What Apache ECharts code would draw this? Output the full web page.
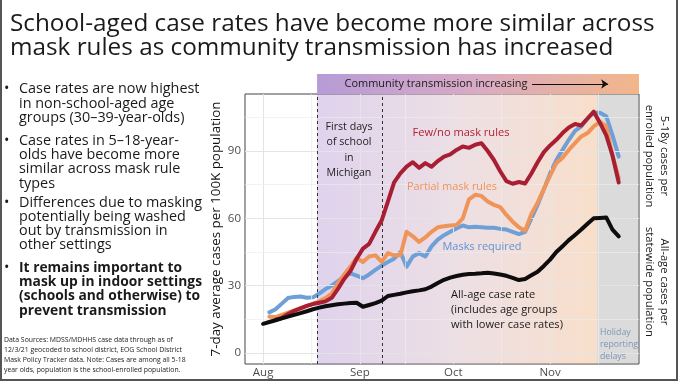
<!DOCTYPE html>
<html><head><meta charset="utf-8">
<script src="https://cdn.jsdelivr.net/npm/echarts@6/dist/echarts.min.js"></script>
<style>
html,body{margin:0;padding:0;width:678px;height:381px;overflow:hidden;background:#fff;font-family:'Open Sans',sans-serif;}
#chart{position:absolute;left:0;top:0;width:678px;height:381px;}
.t{position:absolute;white-space:pre;color:#1a1a1a;}
#frame{position:absolute;left:0;top:0;width:674px;height:379px;border-left:2px solid #555;border-right:2px solid #555;border-bottom:2px solid #555;pointer-events:none;}
</style></head><body>
<div id="chart"></div>
<div id="title" class="t"></div>
<div id="bullets"></div>
<div id="sources" class="t"></div>
<div id="frame"></div>
<script>
// ---------- data (day offsets: 0 = Aug 1, 2021) ----------
const days = [0,2,4,6,8,10,12,14,16,18,20,22,24,26,28,30,32,34,36,38,40,42,44,46,48,50,52,54,56,58,60,62,64,66,68,70,72,74,76,78,80,82,84,86,88,90,92,94,96,98,100,102,104,106,108,110,112,114];
const fewNoMask = [null,null,14.8,15.6,17.4,18.8,19.9,21.0,21.8,22.4,23.0,24.6,28.6,33.0,36.5,42.0,46.5,48.6,54.0,59.0,67.5,76.0,80.0,83.0,85.0,82.5,84.6,83.0,85.5,87.5,88.5,90.5,92.0,91.4,92.8,93.5,90.0,86.0,81.0,76.6,75.4,76.2,75.5,80.0,85.0,89.5,92.5,95.0,98.0,100.5,102.0,101.4,104.5,107.5,102.5,97.0,88.0,76.0];
const partialMask = [null,16.2,16.0,17.0,18.0,19.0,20.0,21.0,22.0,23.0,24.5,26.5,31.0,35.0,38.5,42.5,40.5,43.0,43.5,40.6,44.5,43.5,43.5,54.0,52.0,49.5,51.5,54.0,56.0,56.5,56.8,57.0,60.0,68.5,70.5,70.0,67.5,66.0,65.0,61.5,58.5,56.0,54.5,62.0,67.0,73.0,79.0,84.6,87.0,90.5,93.5,96.5,98.0,101.0,103.0,101.0,88.0,77.9];
const masksRequired = [null,18.1,19.5,22.0,24.5,25.0,25.2,24.6,24.8,26.5,28.5,30.0,32.0,34.3,35.5,34.5,33.3,35.0,37.0,38.9,40.5,42.0,45.0,38.5,43.0,44.5,43.0,47.5,50.5,52.5,54.0,55.5,56.8,56.0,56.2,56.0,55.8,55.8,55.3,55.0,54.0,53.0,54.0,60.0,66.0,73.0,80.0,86.0,90.5,95.0,99.0,101.0,104.5,107.0,107.0,105.5,97.0,87.5];
const allAge = [13.0,13.8,14.6,15.4,16.2,17.0,17.8,18.6,19.5,20.2,20.8,21.3,21.7,22.0,22.3,22.4,20.6,21.4,22.2,23.3,25.4,25.9,26.4,27.0,27.5,27.9,28.4,29.6,31.2,32.6,33.6,34.3,34.9,35.2,35.3,35.5,35.8,35.4,35.0,34.4,33.5,32.5,33.0,34.6,36.2,38.8,41.6,45.0,47.6,50.3,52.6,55.0,57.6,60.0,60.2,60.4,55.0,52.0];

const monthTicks = [0,31,61,92];
const monthLabels = ['Aug','Sep','Oct','Nov'];
const xMinorGrid = [15.5,45.5,76.5,107.5];
const yTickValues = [0,30,60,90];
const yMinorGrid = [15,45,75,105];
const schoolDays = [17.3,38.2];
const transmissionStart = 17.3;
const holidayStart = 107;

const titleLines = ['School-aged case rates have become more similar across','mask rules as community transmission has increased'];
const bullets = [
  {bold:false, lines:['Case rates are now highest','in non-school-aged age','groups (30\u201339-year-olds)']},
  {bold:false, lines:['Case rates in 5\u201318-year-','olds have become more','similar across mask rule','types']},
  {bold:false, lines:['Differences due to masking','potentially being washed','out by transmission in','other settings']},
  {bold:true, lines:['It remains important to','mask up in indoor settings','(schools and otherwise) to','prevent transmission']}
];
const sourceLines = ['Data Sources: MDSS/MDHHS case data through as of','12/3/21 geocoded to school district, EOG School District','Mask Policy Tracker data. Note: Cases are among all 5-18','year olds, population is the school-enrolled population.'];

// ---------- layout helpers ----------
const FONT = "'Open Sans', sans-serif";
const mctx = document.createElement('canvas').getContext('2d');
function fitSize(text, width, weight) {
  mctx.font = (weight || 400) + ' 100px ' + FONT;
  return +(100 * width / mctx.measureText(text).width).toFixed(2);
}
function block(el, lines, left, baseline, lh, size, weight) {
  el.style.left = left + 'px';
  el.style.top = (baseline - lh / 2 - 0.388 * size) + 'px';
  el.style.fontSize = size + 'px';
  el.style.lineHeight = lh + 'px';
  el.style.fontWeight = weight || 400;
  el.textContent = lines.join('\n');
}
// title
const titleSize = fitSize(titleLines[0], 645);
block(document.getElementById('title'), titleLines, 10, 31.5, 24.5, titleSize);
// bullets
const bSize = fitSize('Differences due to masking', 183);
const bBoldSize = fitSize('mask up in indoor settings', 183, 700);
const bBase = [94, 145.7, 207.4, 272.4];
const bWrap = document.getElementById('bullets');
bullets.forEach((b, i) => {
  const d = document.createElement('div'); d.className = 't';
  const sz = b.bold ? bBoldSize : bSize;
  block(d, b.lines, 19, bBase[i], 14.2, sz, b.bold ? 700 : 400);
  bWrap.appendChild(d);
  const dot = document.createElement('div'); dot.className = 't';
  block(dot, ['\u2022'], 4, bBase[i], 14.2, bSize, 400);
  bWrap.appendChild(dot);
});
// sources
const sSize = fitSize(sourceLines[1], 178);
block(document.getElementById('sources'), sourceLines, 4, 343, 9.7, sSize);

// ---------- chart ----------
const xMin = -5.8, xMax = 120.5, yMin = -4.9, yMax = 115.4;
const pair = arr => days.map((d, i) => [d, arr[i]]).filter(p => p[1] !== null);
const chart = echarts.init(document.getElementById('chart'), null, {renderer: 'canvas'});
const G = echarts.graphic.LinearGradient;
const plotShade = new G(0, 0, 1, 0, [
  {offset: 0, color: 'rgba(166,131,205,0.36)'},
  {offset: 0.5, color: 'rgba(205,166,181,0.36)'},
  {offset: 1, color: 'rgba(237,171,116,0.38)'}
]);
const bandShade = new G(0, 0, 1, 0, [
  {offset: 0, color: '#b69bd7'},
  {offset: 0.5, color: '#d9abc4'},
  {offset: 1, color: '#f2b68a'}
]);
const lineSeries = (name, arr, color, z) => ({
  name, type: 'line', data: pair(arr), showSymbol: false, symbol: 'none', z,
  lineStyle: {color, width: 4, join: 'round', cap: 'round'}, silent: true, animation: false
});
const txt = (text, x, y, size, fill, align, lh, extra) => Object.assign({
  type: 'text', x, y, silent: true, z: 100,
  style: {text, font: size + 'px ' + FONT, fill, textAlign: align || 'center', textVerticalAlign: 'middle', lineHeight: lh || size * 1.3}
}, extra || {});

const option = {
  animation: false,
  grid: [
    {left: 245, right: 39, top: 94, bottom: 17, show: true, borderColor: '#444', borderWidth: 1, backgroundColor: 'transparent'},
    {left: 245, right: 39, top: 74, height: 20, show: false}
  ],
  xAxis: [
    {type: 'value', gridIndex: 0, min: xMin, max: xMax,
     axisLine: {show: false}, splitLine: {show: false},
     axisTick: {show: true, customValues: monthTicks, length: 3, lineStyle: {color: '#444'}},
     axisLabel: {customValues: monthTicks, formatter: v => monthLabels[monthTicks.indexOf(v)] || '', color: '#4d4d4d', fontSize: 11.5, fontFamily: FONT, margin: 3}},
    {type: 'value', gridIndex: 1, min: xMin, max: xMax, show: false}
  ],
  yAxis: [
    {type: 'value', gridIndex: 0, min: yMin, max: yMax,
     axisLine: {show: false}, splitLine: {show: false},
     axisTick: {show: true, customValues: yTickValues, length: 3, lineStyle: {color: '#444'}},
     axisLabel: {customValues: yTickValues, color: '#4d4d4d', fontSize: 11.5, fontFamily: FONT, margin: 4},
     name: '7-day average cases per 100K population', nameLocation: 'middle', nameRotate: 90, nameGap: 22,
     nameMoveOverlap: false,
     nameTextStyle: {fontSize: fitSize('7-day average cases per 100K population', 255), color: '#111', fontFamily: FONT}},
    {type: 'value', gridIndex: 1, min: 0, max: 1, show: false}
  ],
  series: [
    {type: 'line', name: 'grid', xAxisIndex: 0, yAxisIndex: 0, data: [[xMin, yMin]], symbol: 'none', lineStyle: {opacity: 0}, z: 1, silent: true,
     markLine: {silent: true, symbol: 'none', label: {show: false}, animation: false,
       data: [].concat(
         monthTicks.map(v => ({xAxis: v, lineStyle: {color: '#e4e4e4', width: 1, type: 'solid'}})),
         xMinorGrid.map(v => ({xAxis: v, lineStyle: {color: '#ececec', width: 0.7, type: 'solid'}})),
         yTickValues.map(v => ({yAxis: v, lineStyle: {color: '#e4e4e4', width: 1, type: 'solid'}})),
         yMinorGrid.map(v => ({yAxis: v, lineStyle: {color: '#ececec', width: 0.7, type: 'solid'}}))
       )}},
    {type: 'line', name: 'shade', xAxisIndex: 0, yAxisIndex: 0, data: [[xMin, yMin]], symbol: 'none', lineStyle: {opacity: 0}, z: 2, silent: true,
     markArea: {silent: true, animation: false, data: [
       [{xAxis: transmissionStart, itemStyle: {color: plotShade}}, {xAxis: holidayStart}],
       [{xAxis: holidayStart, itemStyle: {color: 'rgba(150,150,150,0.34)'}}, {xAxis: xMax}]
     ]},
     markLine: {silent: true, symbol: 'none', label: {show: false}, animation: false,
       lineStyle: {color: '#333', width: 1, type: [3, 3]},
       data: schoolDays.map(v => ({xAxis: v}))}},
    {type: 'line', name: 'band', xAxisIndex: 1, yAxisIndex: 1, data: [[xMin, 0]], symbol: 'none', lineStyle: {opacity: 0}, z: 2, silent: true,
     markArea: {silent: true, animation: false, data: [[{xAxis: transmissionStart, itemStyle: {color: bandShade}}, {xAxis: xMax}]]},
     markLine: {silent: true, animation: false, symbol: ['none', 'arrow'], symbolSize: 7, label: {show: false},
       lineStyle: {color: '#111', width: 1, type: 'solid'},
       data: [[{coord: [86.2, 0.5]}, {coord: [110.6, 0.5]}]]}},
    lineSeries('Masks required', masksRequired, '#6e9fd6', 4),
    lineSeries('Partial mask rules', partialMask, '#ef955a', 5),
    lineSeries('Few/no mask rules', fewNoMask, '#a81f33', 6),
    lineSeries('All-age case rate', allAge, '#0d0d0d', 7)
  ],
  graphic: [
    txt('Community transmission increasing', 436, 84, fitSize('Community transmission increasing', 183), '#1a1a1a'),
    txt('First days\nof school\nin\nMichigan', 349, 150, fitSize('First days', 47), '#222', 'center', 15.4),
    txt('Few/no mask rules', 461, 133, fitSize('Few/no mask rules', 97), '#b01e34'),
    txt('Partial mask rules', 452, 187, fitSize('Partial mask rules', 90), '#ef9458'),
    txt('Masks required', 482, 247, fitSize('Masks required', 79), '#5f93d0'),
    txt('All-age case rate\n(includes age groups\nwith lower case rates)', 451, 310, fitSize('with lower case rates)', 112), '#1a1a1a', 'left', 15.3),
    txt('Holiday\nreporting\ndelays', 600, 345, fitSize('reporting', 38), '#7f93b6', 'left', 12),
    txt('5-18y cases per\nenrolled population', 657, 156, fitSize('statewide population', 110), '#1a1a1a', 'center', 15, {rotation: -Math.PI / 2}),
    txt('All-age cases per\nstatewide population', 657, 282, fitSize('statewide population', 110), '#1a1a1a', 'center', 15, {rotation: -Math.PI / 2})
  ]
};
chart.setOption(option);
</script></body></html>
